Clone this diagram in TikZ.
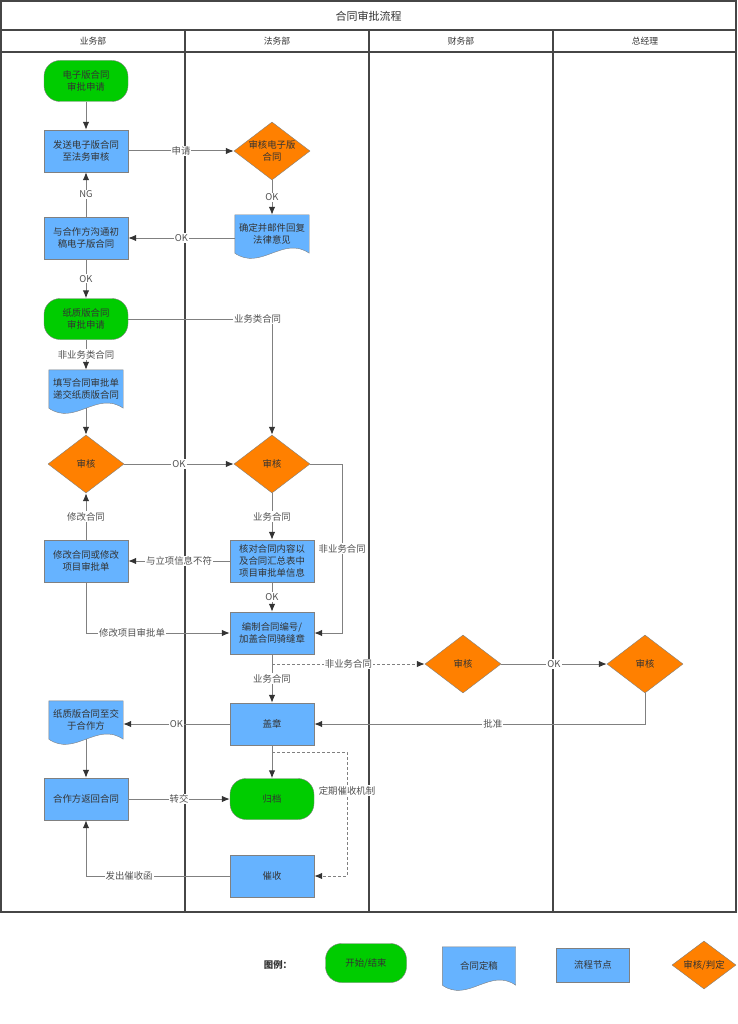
\documentclass[tikz,border=0pt]{standalone}
\usepackage{fontspec}
\setmainfont{Noto Sans CJK SC}
\usetikzlibrary{arrows.meta,shapes.geometric,calc,backgrounds}
\definecolor{startgreen}{RGB}{0,204,0}
\definecolor{nodeblue}{RGB}{102,179,255}
\definecolor{checkorange}{RGB}{255,128,0}
\definecolor{edgegray}{RGB}{128,128,128}
\definecolor{framegray}{RGB}{70,70,70}
\definecolor{txtgray}{RGB}{51,51,51}

\begin{document}
\begin{tikzpicture}[x=1pt, y=-1pt, every node/.style={font=\fontsize{9.4}{12}\selectfont, text=txtgray, align=center}, >={Latex[length=8pt,width=6.5pt,color=txtgray]},
	flow/.style={draw=edgegray, line width=1pt},
	lbl/.style={fill=white, inner sep=1pt, text=txtgray!85},
	term/.style={draw=edgegray, fill=startgreen, rounded corners=16pt, minimum width=84pt, minimum height=41pt, inner sep=0pt},
	proc/.style={draw=edgegray, fill=nodeblue, minimum width=84pt, minimum height=42pt, inner sep=0pt},
	docu/.style={minimum width=74pt, minimum height=38pt, inner sep=0pt},
	judge/.style={diamond, draw=edgegray, fill=checkorange, aspect=1.3, minimum width=76pt, minimum height=58pt, inner sep=0pt}]
	\useasboundingbox (0,0) rectangle (737,1024);
	% swimlanes
	\draw[framegray, line width=1.2pt] (1,1) rectangle (736,912);
	\draw[framegray, line width=1.2pt] (1,30) -- (736,30) (1,52) -- (736,52);
	\draw[framegray, line width=1.2pt] (185,30) -- (185,912) (369,30) -- (369,912) (553,30) -- (553,912);
	\node[font=\fontsize{11}{13}\selectfont] (title) at (368.5,16) {合同审批流程};
	\node[font=\fontsize{8.8}{11}\selectfont] (h1) at (93,41) {业务部};
	\node[font=\fontsize{8.8}{11}\selectfont] (h2) at (277,41) {法务部};
	\node[font=\fontsize{8.8}{11}\selectfont] (h3) at (461,41) {财务部};
	\node[font=\fontsize{8.8}{11}\selectfont] (h4) at (645,41) {总经理};
	% steps
	\node[term] (st1) at (86,81) {电子版合同\\审批申请};
	\node[proc] (send) at (86,151) {发送电子版合同\\至法务审核};
	\node[judge] (rv0) at (272,151) {审核电子版\\合同};
	\node[docu] (doc1) at (272,234) {确定并邮件回复\\法律意见};
	\node[proc] (talk) at (86,238) {与合作方沟通初\\稿电子版合同};
	\node[term] (st2) at (86,319) {纸质版合同\\审批申请};
	\node[docu] (doc2) at (86,389) {填写合同审批单\\递交纸质版合同};
	\node[judge] (rv1) at (86,464) {审核};
	\node[judge] (rv2) at (272,464) {审核};
	\node[proc] (fix) at (86,561) {修改合同或修改\\项目审批单};
	\node[proc] (cmp) at (272,561) {核对合同内容以\\及合同汇总表中\\项目审批单信息};
	\node[proc] (num) at (272,633) {编制合同编号/\\加盖合同骑缝章};
	\node[judge] (rv3) at (463,664) {审核};
	\node[judge] (rv4) at (645,664) {审核};
	\node[proc] (seal) at (272,724) {盖章};
	\node[docu] (doc3) at (86,720) {纸质版合同至交\\于合作方};
	\node[proc] (ret) at (86,799) {合作方返回合同};
	\node[term] (arch) at (272,799) {归档};
	\node[proc] (urge) at (272,876) {催收};
	% legend
	\node[font=\bfseries\fontsize{9.4}{12}\selectfont] (lgt) at (278,965) {图例：};
	\node[term, minimum width=81pt, minimum height=39pt] (lg1) at (366,963) {开始/结束};
	\node[docu, minimum width=73pt] (lg2) at (479,966) {合同定稿};
	\node[proc, minimum width=73pt, minimum height=34pt] (lg3) at (593,965) {流程节点};
	\node[judge, minimum width=64pt, minimum height=48pt] (lg4) at (704,965) {审核/判定};
	\begin{scope}[on background layer]
		\foreach \d in {doc1,doc2,doc3,lg2}
			\draw[draw=edgegray, fill=nodeblue] (\d.south west) -- (\d.north west) -- (\d.north east) -- (\d.south east) .. controls ($(\d.south west)!0.65!(\d.south east)+(0,-18)$) and ($(\d.south west)!0.35!(\d.south east)+(0,18)$) .. (\d.south west);
	\end{scope}
	% connectors
	\draw[flow,->] (st1) -- (send);
	\draw[flow,->] (send) -- node[lbl] {申请} (rv0);
	\draw[flow,->] (rv0) -- node[lbl] {OK} (doc1);
	\draw[flow,->] (doc1.west |- talk) -- node[lbl] {OK} (talk);
	\draw[flow,->] (talk) -- node[lbl] {NG} (send);
	\draw[flow,->] (talk) -- node[lbl] {OK} (st2);
	\draw[flow,->] (st2) -| node[lbl, pos=0.45] {业务类合同} (rv2);
	\draw[flow,->] (st2) -- node[lbl] {非业务类合同} (doc2);
	\draw[flow,->] (doc2) -- (rv1);
	\draw[flow,->] (rv1) -- node[lbl] {OK} (rv2);
	\draw[flow,->] (fix) -- node[lbl] {修改合同} (rv1);
	\draw[flow,->] (rv2) -- node[lbl] {业务合同} (cmp);
	\draw[flow,->] (rv2.east) -- ++(32,0) |- node[lbl, pos=0.25] {非业务合同} (num.east);
	\draw[flow,->] (cmp) -- node[lbl] {与立项信息不符} (fix);
	\draw[flow,->] (cmp) -- node[lbl] {OK} (num);
	\draw[flow,->] (fix) |- node[lbl, pos=0.66] {修改项目审批单} (num);
	\draw[flow,->] (num) -- node[lbl] {业务合同} (seal);
	\draw[flow,->, dash pattern=on 3pt off 2pt] (rv3.west -| num.south) -- node[lbl] {非业务合同} (rv3);
	\draw[flow,->] (rv3) -- node[lbl] {OK} (rv4);
	\draw[flow,->] (rv4) |- node[lbl, pos=0.73] {批准} (seal);
	\draw[flow,->] (seal) -- node[lbl] {OK} (doc3.east |- seal);
	\draw[flow,->] (doc3) -- (ret);
	\draw[flow,->] (ret) -- node[lbl] {转交} (arch);
	\draw[flow,->] (seal) -- (arch);
	\draw[flow,->, dash pattern=on 3pt off 2pt] ([yshift=-7pt]seal.south) -- ++(75,0) |- node[lbl, pos=0.155] {定期催收机制} (urge);
	\draw[flow,->] (urge) -| node[lbl, pos=0.35] {发出催收函} (ret);
\end{tikzpicture}
\end{document}
